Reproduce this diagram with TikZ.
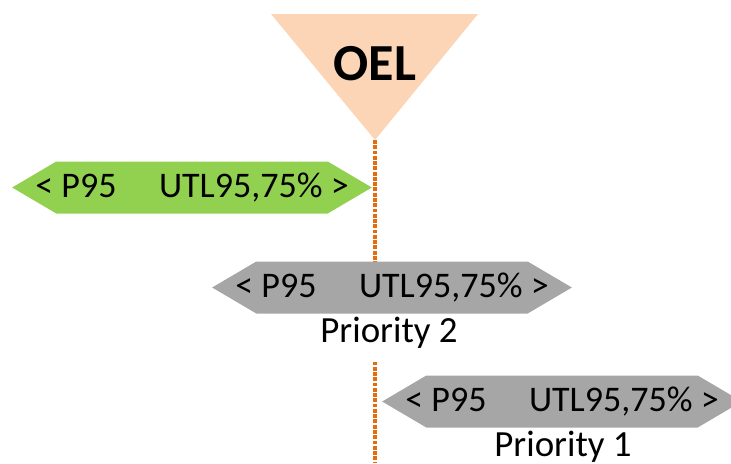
\documentclass[tikz,border=0pt]{standalone}
\usepackage{fontspec}
\setmainfont{Carlito}
\usepackage{xcolor}
\usetikzlibrary{shapes,shapes.symbols,arrows,positioning}

\definecolor{oelpeach}{HTML}{FBD5B5}
\definecolor{oelline}{HTML}{E46C0A}
\definecolor{hexgreen}{HTML}{92D050}
\definecolor{hexgrey}{HTML}{A6A6A6}

\tikzset{
    hexbox/.style={signal, signal to=west and east, signal pointer angle=61,
        minimum height=1.04cm, inner xsep=-0.42cm, inner ysep=0pt,
        font=\fontsize{20.5}{24}\selectfont},
    prio/.style={fill=white, inner xsep=2pt, inner ysep=0.28cm,
        font=\fontsize{21}{24}\selectfont},
    oeldash/.style={draw=oelline, line width=1.8pt, dash pattern=on 2.2pt off 0.8pt}
}

\begin{document}
\begin{tikzpicture}
    \useasboundingbox (0,0) rectangle (14.62,-9.26);

    % Limit: OEL triangle
    \coordinate (tl) at (5.42,-0.28);
    \coordinate (tr) at (9.56,-0.28);
    \coordinate (apex) at (7.5,-2.8);
    \coordinate (lineend) at (7.5,-9.26);
    \fill[oelpeach] (tl) -- (tr) -- (apex) -- cycle;
    \node[font=\bfseries\fontsize{29.6}{32}\selectfont] (oel) at (7.5,-1.27) {OEL};

    % OEL line
    \draw[oeldash] (apex) -- (lineend);

    % Intervals
    \node[prio, anchor=base] (prio2) at (7.78,-6.84) {Priority 2};
    \node[prio, anchor=base, fill=none] (prio1) at (11.26,-9.12) {Priority 1};
    \node[hexbox, fill=hexgreen] (hex3) at (3.84,-3.75)
        {< P95\hspace{0.85cm}UTL95,75\% >};
    \node[hexbox, fill=hexgrey] (hex2) at (7.84,-5.75)
        {< P95\hspace{0.85cm}UTL95,75\% >};
    \node[hexbox, fill=hexgrey] (hex1) at (11.24,-8.03)
        {< P95\hspace{0.85cm}UTL95,75\% >};
\end{tikzpicture}
\end{document}
